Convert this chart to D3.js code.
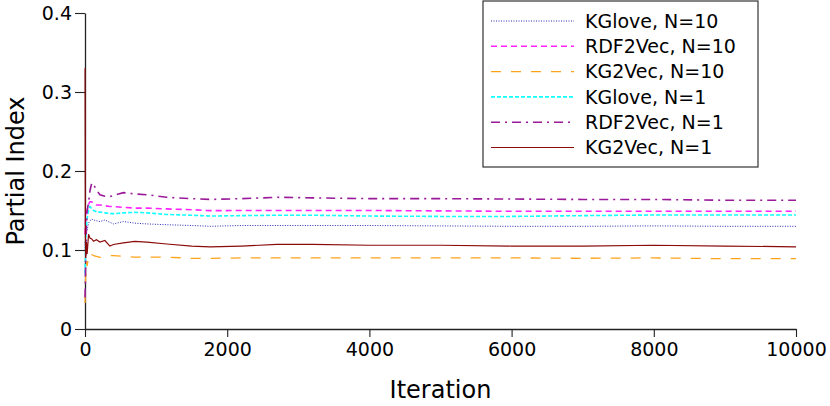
<!DOCTYPE html>
<html>
<head>
<meta charset="utf-8">
<script src="https://cdn.jsdelivr.net/npm/d3@7/dist/d3.min.js"></script>
<style>
  body { margin: 0; background: #fff; }
  svg { display: block; font-family: "DejaVu Sans", sans-serif; }
</style>
</head>
<body>
<svg id="chart" width="830" height="406"></svg>
<script>
const iterations = [1, 5, 10, 20, 30, 50, 70, 95, 120, 160, 210, 280, 350, 400, 540, 700, 870, 1150, 1500, 1760, 2200, 2700, 3200, 4000, 5000, 6000, 7000, 8000, 9000, 10000];

const kgloveN10 = [0.11, 0.10, 0.12, 0.128, 0.125, 0.134, 0.137, 0.139, 0.138, 0.137, 0.136, 0.138, 0.135, 0.133, 0.136, 0.134, 0.133, 0.132, 0.131, 0.130, 0.131, 0.131, 0.131, 0.131, 0.1305, 0.130, 0.130, 0.1305, 0.130, 0.130];
const rdf2vecN10 = [0.12, 0.13, 0.14, 0.145, 0.15, 0.158, 0.161, 0.161, 0.159, 0.157, 0.157, 0.156, 0.155, 0.155, 0.154, 0.153, 0.153, 0.152, 0.151, 0.1498, 0.150, 0.150, 0.150, 0.150, 0.1495, 0.149, 0.149, 0.149, 0.149, 0.149];
const kg2vecN10 = [0.033, 0.05, 0.07, 0.085, 0.08, 0.091, 0.089, 0.094, 0.093, 0.092, 0.0907, 0.092, 0.093, 0.093, 0.092, 0.091, 0.091, 0.091, 0.0895, 0.0895, 0.090, 0.090, 0.090, 0.090, 0.090, 0.090, 0.0895, 0.090, 0.089, 0.089];
const kgloveN1 = [0.07, 0.09, 0.11, 0.13, 0.14, 0.15, 0.155, 0.152, 0.150, 0.1485, 0.148, 0.147, 0.146, 0.146, 0.147, 0.1477, 0.147, 0.145, 0.144, 0.143, 0.1435, 0.144, 0.144, 0.143, 0.1425, 0.1425, 0.1435, 0.1443, 0.1443, 0.1443];
const rdf2vecN1 = [0.04, 0.06, 0.09, 0.13, 0.15, 0.16, 0.175, 0.185, 0.183, 0.176, 0.170, 0.168, 0.1675, 0.169, 0.1726, 0.171, 0.170, 0.1667, 0.165, 0.164, 0.165, 0.1667, 0.166, 0.165, 0.165, 0.1645, 0.164, 0.164, 0.163, 0.163];
const kg2vecN1 = [0.33, 0.12, 0.09, 0.11, 0.095, 0.12, 0.115, 0.114, 0.111, 0.113, 0.110, 0.112, 0.105, 0.107, 0.109, 0.111, 0.110, 0.1076, 0.105, 0.104, 0.105, 0.107, 0.107, 0.106, 0.106, 0.105, 0.105, 0.106, 0.105, 0.104];

const seriesNames = ["KGlove, N=10", "RDF2Vec, N=10", "KG2Vec, N=10", "KGlove, N=1", "RDF2Vec, N=1", "KG2Vec, N=1"];
const seriesValues = [kgloveN10, rdf2vecN10, kg2vecN10, kgloveN1, rdf2vecN1, kg2vecN1];
const xTicks = [0, 2000, 4000, 6000, 8000, 10000];
const yTicks = [0, 0.1, 0.2, 0.3, 0.4];

const styles = [
  { color: "#2a2ab5", width: 1, dash: "1,1.5" },
  { color: "#ff22ff", width: 1.6, dash: "6,4" },
  { color: "#ffa31a", width: 1.3, dash: "10,10" },
  { color: "#11ffff", width: 1.6, dash: "4,2" },
  { color: "#9a1a9a", width: 1.6, dash: "9,5,2,5" },
  { color: "#8b0a0a", width: 1.2, dash: null }
];

const svg = d3.select("#chart");
const margin = { left: 85, right: 34, top: 13, bottom: 77 };
const W = 830, H = 406;
const x = d3.scaleLinear().domain([0, 10000]).range([margin.left, W - margin.right]);
const y = d3.scaleLinear().domain([0, 0.4]).range([H - margin.bottom, margin.top]);

svg.append("defs").append("clipPath").attr("id", "clip")
  .append("rect").attr("x", margin.left - 2).attr("y", margin.top)
  .attr("width", W - margin.left - margin.right + 2).attr("height", H - margin.top - margin.bottom);

const fmtY = d => d === 0 ? "0" : d3.format(".1f")(d);
const xAxis = svg.append("g").attr("transform", `translate(0,${H - margin.bottom})`)
  .call(d3.axisBottom(x).tickValues(xTicks).tickSize(8).tickSizeOuter(0).tickFormat(d3.format("d")));
const yAxis = svg.append("g").attr("transform", `translate(${margin.left},0)`)
  .call(d3.axisLeft(y).tickValues(yTicks).tickSize(10).tickSizeOuter(0).tickFormat(fmtY));

[xAxis, yAxis].forEach(g => {
  g.selectAll("path").attr("stroke", "#222").attr("stroke-width", 1.3);
  g.selectAll("line").attr("stroke", "#222").attr("stroke-width", 1.1);
  g.selectAll("text").attr("font-size", 19).attr("fill", "#000").attr("font-family", "DejaVu Sans");
});
xAxis.selectAll("text").attr("dy", "0.95em").attr("y", 9);
yAxis.selectAll("text").attr("x", -13);

const line = d3.line().x(d => x(d[0])).y(d => y(d[1]));

const plot = svg.append("g").attr("clip-path", "url(#clip)");
seriesValues.forEach((vals, i) => {
  const data = iterations.map((it, j) => [it, vals[j]]);
  plot.append("path").datum(data)
    .attr("fill", "none")
    .attr("stroke", styles[i].color)
    .attr("stroke-width", styles[i].width)
    .attr("stroke-dasharray", styles[i].dash)
    .attr("d", line);
});

svg.append("text").attr("x", (margin.left + W - margin.right) / 2).attr("y", 398)
  .attr("text-anchor", "middle").attr("font-size", 24).text("Iteration");
svg.append("text").attr("transform", `translate(24,${(margin.top + H - margin.bottom) / 2}) rotate(-90)`)
  .attr("text-anchor", "middle").attr("font-size", 24).text("Partial Index");

// legend
const lg = svg.append("g");
lg.append("rect").attr("x", 483).attr("y", 1).attr("width", 275).attr("height", 166)
  .attr("fill", "#fff").attr("stroke", "#333").attr("stroke-width", 1.2);
seriesNames.forEach((name, i) => {
  const yy = 21 + i * 25.3;
  lg.append("line").attr("x1", 491).attr("x2", 574).attr("y1", yy).attr("y2", yy)
    .attr("stroke", styles[i].color).attr("stroke-width", styles[i].width)
    .attr("stroke-dasharray", styles[i].dash);
  lg.append("text").attr("x", 585).attr("y", yy).attr("dy", "0.36em")
    .attr("font-size", 19).text(name);
});
</script>
</body>
</html>
